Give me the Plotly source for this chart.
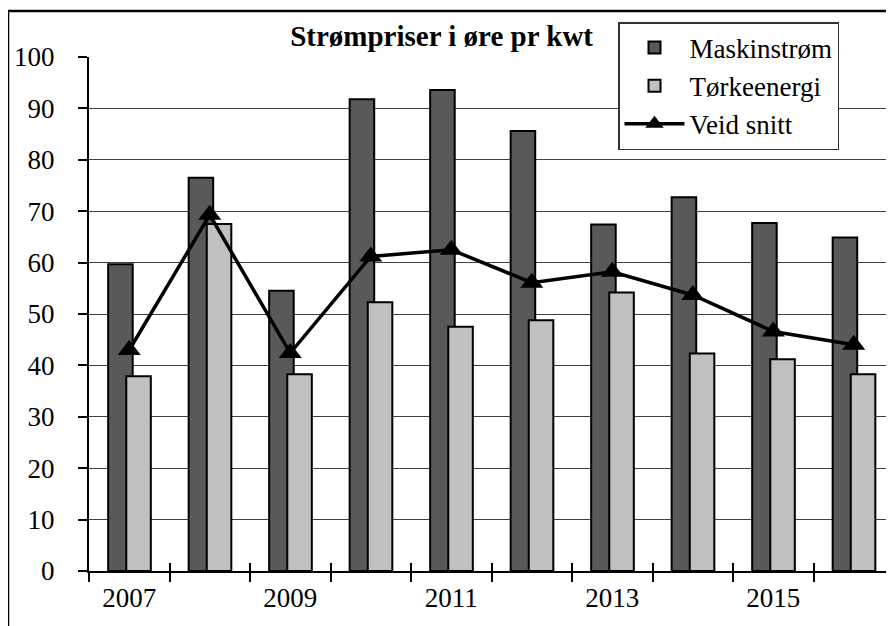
import plotly.graph_objects as go

years = [2007, 2008, 2009, 2010, 2011, 2012, 2013, 2014, 2015, 2016]
maskinstrom = [59.7, 76.5, 54.5, 91.8, 93.6, 85.6, 67.4, 72.7, 67.7, 64.9]
torkeenergi = [37.9, 67.5, 38.3, 52.3, 47.5, 48.8, 54.2, 42.3, 41.2, 38.3]
veid_snitt = [43.0, 69.3, 42.4, 61.2, 62.5, 56.1, 58.2, 53.7, 46.6, 44.0]
tick_labels = [2007, 2009, 2011, 2013, 2015]
boundaries = [y - 0.5 for y in years] + [years[-1] + 0.5]

FONT = "Liberation Serif"
W, H = 886, 618  # page body has an 8px margin

fig = go.Figure()
fig.add_trace(go.Bar(
    x=years, y=maskinstrom, name="Maskinstrøm",
    width=0.305, offset=-0.262,
    marker=dict(color="#595959", line=dict(color="black", width=2)),
))
fig.add_trace(go.Bar(
    x=years, y=torkeenergi, name="Tørkeenergi",
    width=0.305, offset=-0.037,
    marker=dict(color="#c0c0c0", line=dict(color="black", width=2)),
))
fig.add_trace(go.Scatter(
    x=years, y=veid_snitt, name="Veid snitt", mode="lines+markers",
    xaxis="x2",
    line=dict(color="black", width=3.5),
    marker=dict(symbol="triangle-up", size=20, color="black"),
))

fig.update_layout(
    width=W, height=H,
    margin=dict(l=81, r=0, t=49, b=55, autoexpand=False),
    paper_bgcolor="white", plot_bgcolor="white",
    barmode="overlay",
    font=dict(family=FONT, color="black", size=26),
    title=dict(
        text="<b>Strømpriser i øre pr kwt</b>",
        font=dict(family=FONT, size=29, color="black"),
        x=0.438, xref="paper", xanchor="center",
        y=1 - 28 / H, yref="container", yanchor="middle",
    ),
    xaxis=dict(
        range=[2006.5, 2016.5], tickmode="array", tickvals=tick_labels,
        ticktext=[str(t) for t in tick_labels], ticks="",
        showgrid=False, zeroline=False, automargin=False,
        showline=True, linecolor="black", linewidth=2,
        tickfont=dict(family=FONT, size=27, color="black"),
        ticklabelstandoff=2,
        minor=dict(tickmode="array", tickvals=boundaries, ticks="outside",
                   ticklen=9, tickwidth=1.5, tickcolor="black", showgrid=False),
    ),
    xaxis2=dict(
        overlaying="x", matches="x", anchor="y", automargin=False,
        tickmode="array", tickvals=boundaries, ticks="inside", ticklen=8,
        tickwidth=1.5, tickcolor="black",
        showticklabels=False, showgrid=False, zeroline=False, showline=False,
    ),
    yaxis=dict(
        range=[0, 100], tickmode="array", tickvals=[0, 10, 20, 30, 40, 50, 60, 70, 80, 90, 100],
        ticks="outside", ticklen=9, tickwidth=1.5, tickcolor="black",
        showgrid=True, gridcolor="#404040", gridwidth=1.2,
        zeroline=False, showline=True, linecolor="black", linewidth=2,
        tickfont=dict(family=FONT, size=27, color="black"),
        ticklabelstandoff=18, automargin=False,
    ),
    legend=dict(
        xref="container", yref="container",
        x=610 / W, y=1 - 14 / H, xanchor="left", yanchor="top",
        bgcolor="white", bordercolor="#333333", borderwidth=1.5,
        font=dict(family=FONT, size=27, color="black"),
        itemwidth=60, tracegroupgap=0,
    ),
    showlegend=True,
    shapes=[dict(
        type="rect", xref="paper", yref="paper",
        x0=-0.1006, x1=1.05, y0=-0.12, y1=1.0895,
        line=dict(color="black", width=2.5), fillcolor="rgba(0,0,0,0)",
        layer="above",
    )],
)

fig.write_html("out.html")
